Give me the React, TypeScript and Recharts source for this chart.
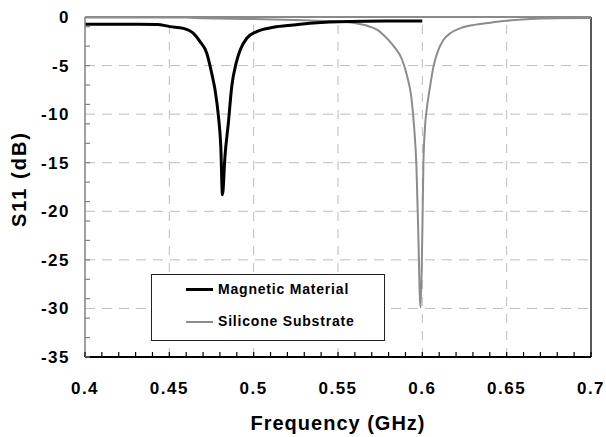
import { LineChart, Line, XAxis, YAxis, ReferenceLine } from 'recharts';

// Frequency (GHz) / S11 (dB)
const MAG_FREQ = [0.4, 0.42, 0.4427, 0.4504, 0.4583, 0.4643, 0.4682, 0.4722, 0.4751, 0.4771, 0.4791, 0.4805, 0.4815, 0.483, 0.485, 0.487, 0.4896, 0.492, 0.4959, 0.5018, 0.5117, 0.5236, 0.5354, 0.5572, 0.58, 0.6];
const MAG_S11 = [-0.75, -0.75, -0.76, -0.99, -1.17, -1.68, -2.53, -3.73, -5.78, -7.5, -10.2, -13.3, -18.3, -14.3, -10.9, -7.15, -4.75, -3.39, -2.19, -1.51, -1.06, -0.82, -0.62, -0.46, -0.42, -0.41];

const SI_FREQ = [0.4, 0.46, 0.47, 0.5, 0.53, 0.545, 0.555, 0.562, 0.569, 0.574, 0.577, 0.583, 0.588, 0.591, 0.5935, 0.5952, 0.5965, 0.5976, 0.5986, 0.599, 0.6, 0.6006, 0.6016, 0.6026, 0.6046, 0.6066, 0.6095, 0.6125, 0.6165, 0.6224, 0.6303, 0.6402, 0.65, 0.6639, 0.68, 0.7];
const SI_S11 = [-0.05, -0.06, -0.13, -0.2, -0.33, -0.42, -0.52, -0.7, -1.0, -1.4, -1.85, -3.0, -4.4, -6.1, -8.3, -11.5, -15.4, -22.2, -29.1, -29.9, -22.2, -15.4, -11.3, -9.5, -7.15, -5.1, -3.39, -2.36, -1.68, -1.17, -0.82, -0.58, -0.38, -0.2, -0.12, -0.1];

const X_MAJOR = [0.4, 0.45, 0.5, 0.55, 0.6, 0.65, 0.7];
const X_LABELS = ['0.4', '0.45', '0.5', '0.55', '0.6', '0.65', '0.7'];
const X_TICKS = [0.4, 0.41, 0.42, 0.43, 0.44, 0.45, 0.46, 0.47, 0.48, 0.49, 0.5, 0.51, 0.52, 0.53, 0.54, 0.55, 0.56, 0.57, 0.58, 0.59, 0.6, 0.61, 0.62, 0.63, 0.64, 0.65, 0.66, 0.67, 0.68, 0.69, 0.7];
const Y_MAJOR = [0, -5, -10, -15, -20, -25, -30, -35];
const Y_TICKS = [0, -1, -3, -5, -7, -9, -10, -11, -13, -15, -17, -19, -20, -21, -23, -25, -27, -29, -30, -31, -33, -35];

const magData = MAG_FREQ.map((f, i) => ({ f, s11: MAG_S11[i] }));
const siData = SI_FREQ.map((f, i) => ({ f, s11: SI_S11[i] }));

const FONT = '"Liberation Sans", Arial, sans-serif';
const GRID = '#bdbdbd';

const XTick = ({ x, y, payload }: any) => {
  const idx = X_MAJOR.findIndex((v) => Math.abs(v - payload.value) < 1e-6);
  return (
    <g>
      <line x1={x} x2={x} y1={y} y2={y - 5} stroke="#000" strokeWidth={1.2} />
      {idx >= 0 && (
        <text x={x} y={y + 37} textAnchor="middle" fontFamily={FONT} fontWeight="bold" fontSize={17} letterSpacing={1.5} fill="#000">
          {X_LABELS[idx]}
        </text>
      )}
    </g>
  );
};

const YTick = ({ x, y, payload }: any) => {
  const major = Y_MAJOR.includes(payload.value);
  const minor = payload.value % 2 !== 0;
  return (
    <g>
      {minor && <line x1={x} x2={x + 5} y1={y} y2={y} stroke="#808080" strokeWidth={1.2} />}
      {major && (
        <text x={x - 15} y={y + 6} textAnchor="end" fontFamily={FONT} fontWeight="bold" fontSize={17} letterSpacing={1.5} fill="#000">
          {payload.value}
        </text>
      )}
    </g>
  );
};

export default function App() {
  return (
    <div style={{ position: 'absolute', left: 0, top: 0, width: 606, height: 437, background: '#fff' }}>
      <LineChart width={606} height={437} margin={{ top: 17, right: 15, bottom: 0, left: 0 }}>
        <XAxis
          type="number"
          dataKey="f"
          domain={[0.4, 0.7]}
          ticks={X_TICKS}
          interval={0}
          height={80}
          tickSize={0}
          tickMargin={0}
          tickLine={false}
          tick={<XTick />}
          axisLine={{ stroke: '#000', strokeWidth: 2 }}
          allowDataOverflow
          label={({ viewBox }: any) => (
            <text x={viewBox.x + viewBox.width / 2} y={430} textAnchor="middle" fontFamily={FONT} fontWeight="bold" fontSize={20} letterSpacing={1} fill="#000">
              Frequency (GHz)
            </text>
          )}
        />
        <YAxis
          type="number"
          domain={[-35, 0]}
          ticks={Y_TICKS}
          interval={0}
          width={85}
          tickSize={0}
          tickMargin={0}
          tickLine={false}
          tick={<YTick />}
          axisLine={{ stroke: '#808080', strokeWidth: 1.5 }}
          allowDataOverflow
          label={() => (
            <text x={19} y={179} transform="rotate(-90 19 179)" textAnchor="middle" dominantBaseline="central" fontFamily={FONT} fontWeight="bold" fontSize={20} letterSpacing={2} fill="#000">
              S11 (dB)
            </text>
          )}
        />
        {[-5, -10, -15, -20, -25, -30].map((v) => (
          <ReferenceLine key={'h' + v} y={v} stroke={GRID} strokeDasharray="10 7" />
        ))}
        {[0.45, 0.5, 0.55, 0.6, 0.65].map((v) => (
          <ReferenceLine key={'v' + v} x={v} stroke={GRID} strokeDasharray="9 8" />
        ))}
        <ReferenceLine x={0.7} stroke="#222" strokeWidth={1.5} />
        <ReferenceLine y={0} stroke="#8a8a8a" strokeWidth={2} />
        <Line data={siData} dataKey="s11" type="monotone" stroke="#8c8c8c" strokeWidth={2} dot={false} isAnimationActive={false} name="Silicone Substrate" />
        <Line data={magData} dataKey="s11" type="monotone" stroke="#000" strokeWidth={3} dot={false} isAnimationActive={false} name="Magnetic Material" />
      </LineChart>
      <div style={{ position: 'absolute', left: 151, top: 274, width: 232, height: 65, border: '1px solid #222', background: '#fff', fontFamily: FONT, fontWeight: 'bold', fontSize: 14, letterSpacing: 0.8 }}>
        <div style={{ position: 'absolute', left: 34, top: 13, width: 27, height: 3, background: '#000' }} />
        <div style={{ position: 'absolute', left: 66, top: 6, whiteSpace: 'nowrap' }}>Magnetic Material</div>
        <div style={{ position: 'absolute', left: 34, top: 46, width: 27, height: 2, background: '#8c8c8c' }} />
        <div style={{ position: 'absolute', left: 66, top: 38, whiteSpace: 'nowrap' }}>Silicone Substrate</div>
      </div>
    </div>
  );
}
